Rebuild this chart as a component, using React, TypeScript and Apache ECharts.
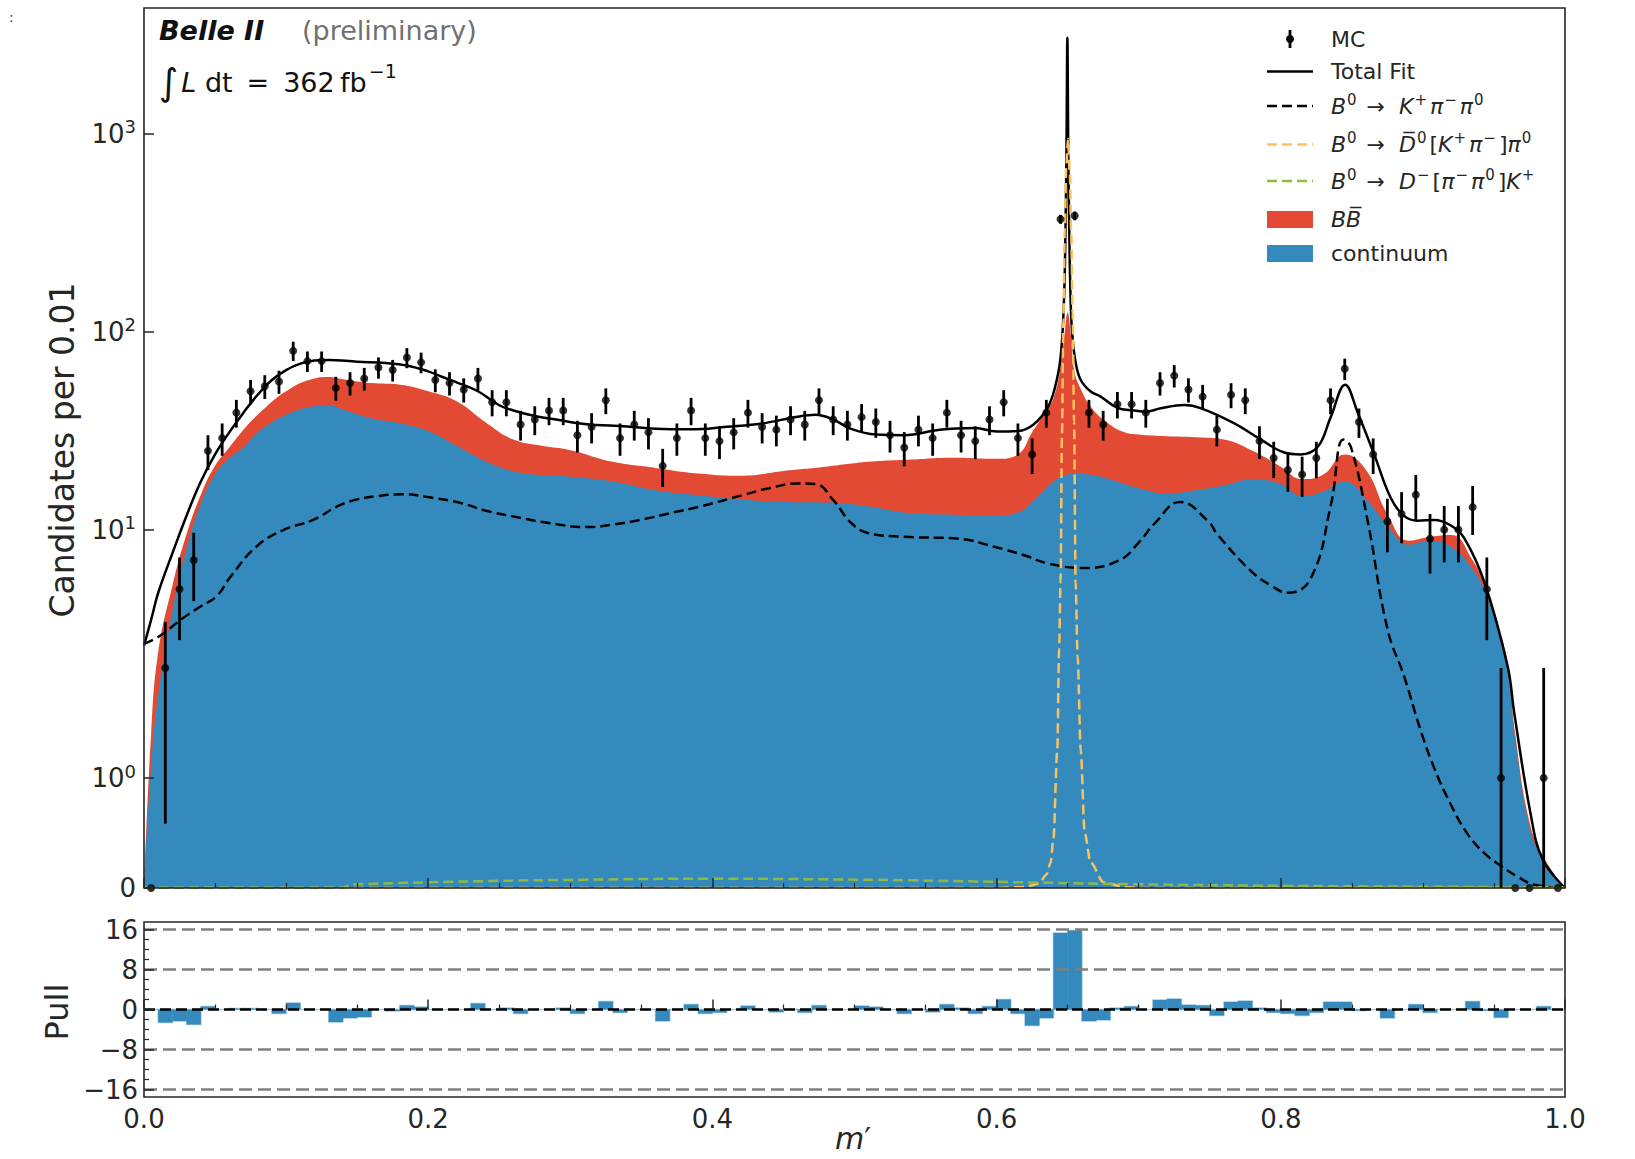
import React, { useEffect, useRef } from "react";
import * as echarts from "echarts";

// ---------------- data ----------------
const BIN_WIDTH = 0.01;

// MC counts per bin of 0.01 in m'
const mcCounts = [
  0, 2, 5, 7, 25, 29, 39, 50, 53, 56,
  80, 71, 71, 52, 55, 58, 66, 64, 74, 70,
  57, 55, 51, 58, 44, 44, 34, 36, 40, 40,
  30, 33, 45, 29, 34, 31, 21, 29, 40, 29,
  28, 31, 39, 33, 32, 36, 34, 45, 36, 34,
  37, 35, 30, 26, 32, 29, 39, 30, 28, 36,
  44, 29, 24, 39, 370, 385, 39, 34, 43, 43,
  39, 55, 60, 51, 47, 32, 48, 45, 28, 23,
  20, 19, 23, 45, 65, 35, 24, 11, 12, 15,
  9, 10, 10, 13, 5, 1, 0, 0, 1, 0,
];

// Pull per bin
const pullValues = [
  0, -2.6, -2.3, -3.0, 0.6, 0, 0.2, 0.2, 0, -0.8,
  1.3, 0, 0, -2.5, -1.7, -1.5, 0, -0.3, 0.8, 0.5,
  0, 0, 0, 1.2, 0, 0.3, -0.8, 0, 0, 0.3,
  -0.8, 0, 1.6, -0.6, 0, 0, -2.3, 0, 1.0, -0.8,
  -0.6, 0, 0.7, 0, -0.5, 0, -0.6, 0.8, 0, 0,
  0.7, 0.5, 0, -0.8, 0, -0.5, 1.0, 0.3, -0.8, 0.6,
  2.0, -0.8, -3.2, -1.7, 15.3, 15.8, -2.3, -2.1, 0.3, 0.6,
  0, 1.9, 2.1, 0.9, 0.8, -1.2, 1.5, 1.7, 0.3, -0.6,
  -0.8, -1.2, -0.6, 1.5, 1.5, -0.2, 0, -1.7, 0, 1.0,
  -0.6, 0, 0, 1.6, -0.2, -1.6, 0, 0, 0.6, 0,
];

// stacked background components (continuum + BBbar)
const areaX = [
  0, 0.005, 0.01, 0.02, 0.03, 0.04, 0.05, 0.06, 0.07, 0.08,
  0.1, 0.12, 0.13, 0.14, 0.16, 0.18, 0.2, 0.22, 0.24, 0.26,
  0.28, 0.3, 0.33, 0.36, 0.39, 0.42, 0.45, 0.48, 0.51, 0.54,
  0.57, 0.6, 0.615, 0.625, 0.635, 0.64, 0.645, 0.648, 0.65, 0.652,
  0.655, 0.66, 0.665, 0.675, 0.69, 0.7, 0.72, 0.74, 0.76, 0.78,
  0.8, 0.815, 0.83, 0.845, 0.86, 0.875, 0.89, 0.905, 0.92, 0.935,
  0.945, 0.955, 0.96, 0.965, 0.975, 0.985, 1.0,
];
const continuumValues = [
  0, 1.1, 1.75, 3.9, 8.0, 13.5, 19, 23, 26, 31,
  38, 42, 42.5, 40.5, 36.5, 34.5, 31.5, 26.5, 22.2, 19.7,
  18.8, 18.5, 17.5, 15.8, 14.9, 14.2, 13.8, 13.7, 13.1, 12.1,
  11.9, 11.8, 12.2, 13.8, 16.2, 17.5, 18.5, 18.8, 19.0, 19.2,
  19.4, 19.3, 19.0, 18.4, 17.0, 16.2, 15.2, 15.8, 16.7, 17.9,
  17.0, 14.8, 15.6, 17.5, 14.3, 10.5, 8.4, 8.8, 8.2, 6.3,
  4.6, 2.7, 1.95, 1.35, 0.55, 0.25, 0,
];
const bbbarValues = [
  0, 0.3, 0.65, 1.3, 1.5, 1.5, 2, 3, 6, 7,
  12, 16, 16.5, 17, 18.5, 19.5, 18.5, 18, 12.8, 8.8,
  7.7, 6.7, 4.5, 4.7, 4.3, 4.5, 6.0, 7.1, 8.9, 10.5,
  11.2, 11.0, 11.8, 17.2, 23.8, 28.5, 47.5, 81.2, 106, 80.8,
  42.6, 30.7, 24, 17.6, 14, 14, 14.4, 13.5, 11.8, 7.1,
  3.8, 3.2, 3.4, 6.5, 5.7, 1.5, 0.4, 0.4, 1.2, 0.7,
  0.4, 0.2, 0.1, 0.05, 0.05, 0.03, 0,
];

// Total fit
const fitX = [
  0, 0.005, 0.01, 0.02, 0.03, 0.04, 0.05, 0.06, 0.07, 0.08,
  0.09, 0.1, 0.11, 0.12, 0.13, 0.15, 0.17, 0.185, 0.2, 0.21,
  0.22, 0.235, 0.25, 0.26, 0.275, 0.29, 0.31, 0.34, 0.36, 0.385,
  0.41, 0.435, 0.46, 0.4725, 0.485, 0.4975, 0.515, 0.535, 0.56, 0.585,
  0.6, 0.615, 0.626, 0.636, 0.641, 0.645, 0.6474, 0.6486, 0.6492, 0.6498,
  0.6504, 0.651, 0.6521, 0.6533, 0.6556, 0.6592, 0.666, 0.6732, 0.685, 0.697,
  0.705, 0.7155, 0.732, 0.744, 0.767, 0.786, 0.802, 0.814, 0.826, 0.835,
  0.8453, 0.854, 0.8657, 0.8775, 0.8869, 0.8963, 0.908, 0.9197, 0.9291, 0.9432,
  0.9596, 0.9643, 0.976, 0.9843, 1.0,
];
const fitValues = [
  2.6, 3.5, 4.8, 7.6, 11.8, 17.5, 24, 31, 39, 48,
  57, 64, 69, 71.5, 72, 70.5, 69.5, 67.5, 63, 59,
  55.5, 50, 42.5, 40, 37.5, 36, 34.2, 33.2, 32.3, 32.1,
  33.1, 34.4, 37.2, 38, 36, 32.3, 30.2, 30, 32, 32.6,
  31.3, 31.5, 34, 41.5, 52, 74, 143, 380, 900, 3050,
  900, 380, 143, 96, 70, 57, 50, 47, 41.2, 40,
  39.4, 41, 42.6, 41, 34.5, 28.5, 24.6, 24, 26.2, 36.8,
  54, 39.2, 24, 14.4, 11.7, 11.1, 11.2, 10.5, 9.06, 5.44,
  2.05, 1.59, 0.66, 0.26, 0,
];

// B0 -> K+ pi- pi0
const kppX = [
  0, 0.011, 0.028, 0.04, 0.051, 0.061, 0.079, 0.098, 0.119, 0.136,
  0.148, 0.165, 0.182, 0.2, 0.2235, 0.24, 0.2613, 0.285, 0.3116, 0.33,
  0.3493, 0.37, 0.3915, 0.4222, 0.44, 0.46, 0.4725, 0.4851, 0.4977, 0.51,
  0.5354, 0.5731, 0.5983, 0.62, 0.636, 0.6612, 0.6863, 0.7, 0.7115, 0.7291,
  0.749, 0.7554, 0.779, 0.7935, 0.8047, 0.8211, 0.8352, 0.8441, 0.8493, 0.861,
  0.8751, 0.8869, 0.898, 0.908, 0.92, 0.9315, 0.943, 0.955, 0.967, 0.9784,
  1.0,
];
const kppValues = [
  2.65, 2.9, 3.6, 4.1, 4.6, 5.8, 8.2, 9.95, 11.2, 13.1,
  14.1, 14.8, 15.1, 14.6, 13.6, 12.5, 11.6, 10.8, 10.3, 10.6,
  11.2, 12.1, 13.1, 15.0, 16.2, 17.1, 17.0, 14.1, 10.8, 9.6,
  9.2, 9.0, 8.2, 7.4, 6.75, 6.4, 7.0, 8.6, 10.8, 13.8,
  11.0, 9.46, 6.18, 5.2, 4.8, 5.68, 13.3, 28.5, 26.2, 11.2,
  3.14, 1.92, 1.45, 1.09, 0.75, 0.49, 0.32, 0.2, 0.1, 0.03,
  0,
];

// B0 -> D0bar[K+ pi-] pi0
const d0X = [
  0, 0.6, 0.62, 0.63, 0.635, 0.638, 0.64, 0.6427, 0.644, 0.645,
  0.646, 0.647, 0.648, 0.649, 0.6503, 0.6515, 0.6525, 0.6535, 0.6545, 0.6556,
  0.657, 0.6592, 0.662, 0.6662, 0.6754, 0.69, 0.7, 1.0,
];
const d0Values = [
  0, 0, 0.01, 0.04, 0.12, 0.23, 0.45, 1.25, 2.5, 5.4,
  30, 115, 330, 680, 940, 640, 320, 125, 35, 5.4,
  2.3, 1.25, 0.5, 0.23, 0.05, 0.01, 0, 0,
];

// B0 -> D-[pi- pi0] K+
const dmX = [0, 0.14, 0.145, 0.15, 0.2, 0.25, 0.31, 0.4, 0.45, 0.54, 0.63, 0.7, 0.8, 0.9, 1.0];
const dmValues = [0, 0, 0.03, 0.034, 0.052, 0.065, 0.076, 0.085, 0.082, 0.07, 0.049, 0.034, 0.02, 0.012, 0.006];

// ticks
const yTickValues = [0, 1, 10, 100, 1000];
const yTickExponents = ["", "0", "1", "2", "3"];
const pullTicks = [-16, -8, 0, 8, 16];
const pullMinorTicks = [-14, -12, -10, -6, -4, -2, 2, 4, 6, 10, 12, 14];
const pullRefLines = [-16, -8, 8, 16];

// ---------------- scale (matplotlib symlog, linthresh=2, linscale=1) ----------------
const LINTHRESH = 2;
const LINADJ = 1 / (1 - 1 / 10);
function symlog(v: number): number {
  const a = Math.abs(v);
  if (a <= LINTHRESH) return v * LINADJ;
  return Math.sign(v) * LINTHRESH * (LINADJ + Math.log10(a / LINTHRESH));
}
const Y_MAX = 8.89;

// ---------------- style ----------------
const FONT = "DejaVu Sans";
const INK = "#262626";
const RED = "#E24A33";
const BLUE = "#348ABD";
const ORANGE = "#FBC15E";
const GREEN = "#8EBA42";
const MAIN = { left: 144, top: 8, width: 1421, height: 880 };
const PULL = { left: 144, top: 922, width: 1421, height: 175 };

function curve(xs: number[], vs: number[], color: string, width: number, dash: any, z: number, smooth = 0.45, mono: any = null) {
  return {
    type: "line",
    xAxisIndex: 0,
    yAxisIndex: 0,
    data: xs.map((x, i) => [x, symlog(vs[i])]),
    symbol: "none",
    showSymbol: false,
    smooth,
    smoothMonotone: mono,
    lineStyle: { color, width, type: dash },
    z,
    silent: true,
  };
}

function area(xs: number[], vs: number[], color: string, z: number) {
  return {
    type: "line",
    xAxisIndex: 0,
    yAxisIndex: 0,
    data: xs.map((x, i) => [x, symlog(vs[i])]),
    symbol: "none",
    showSymbol: false,
    smooth: 0.45,
    lineStyle: { width: 0, opacity: 0 },
    areaStyle: { color, opacity: 1 },
    z,
    silent: true,
  };
}

function buildOption() {
  const centers = mcCounts.map((_, i) => (i + 0.5) * BIN_WIDTH);
  const stackTop = continuumValues.map((c, i) => c + bbbarValues[i]);
  const errData = mcCounts
    .map((n, i) => [centers[i], symlog(Math.max(0, n - Math.sqrt(n))), symlog(n + Math.sqrt(n))])
    .filter((d, i) => mcCounts[i] > 0);
  const markerData = mcCounts.map((n, i) => [centers[i], symlog(n)]);
  const pullData = pullValues.map((p, i) => [i * BIN_WIDTH, (i + 1) * BIN_WIDTH, p]);

  const tickStyle = { color: INK, width: 1.5 };
  const labelBase = { fontSize: 26, fontFamily: FONT, color: INK };

  const legRows = [39, 71.5, 106, 144.5, 181, 219.5, 253.5];
  const LX0 = 1267, LX1 = 1313, LTX = 1331;
  const richLeg = {
    r: { fontSize: 22, fontFamily: FONT, fill: INK, color: INK, lineHeight: 28 },
    i: { fontSize: 22, fontFamily: FONT, fontStyle: "italic", fill: INK, color: INK, lineHeight: 28 },
    n: { fontSize: 15, fontFamily: FONT, fill: INK, color: INK, lineHeight: 17, verticalAlign: "top", padding: [0, 3, 0, 1] },
  };
  const legText = (y: number, text: string) => ({
    type: "text",
    x: LTX,
    y,
    z: 100,
    silent: true,
    style: { text, rich: richLeg, fontSize: 22, fontFamily: FONT, fill: INK, align: "left", verticalAlign: "middle" },
  });
  const legLine = (y: number, color: string, dash: any) => ({
    type: "line",
    z: 100,
    silent: true,
    shape: { x1: LX0, y1: y, x2: LX1, y2: y },
    style: { stroke: color, lineWidth: 2.5, lineDash: dash },
  });
  const legRect = (y: number, color: string) => ({
    type: "rect",
    z: 100,
    silent: true,
    shape: { x: LX0, y: y - 8.5, width: LX1 - LX0, height: 17 },
    style: { fill: color },
  });

  const graphic: any[] = [
    // frames
    { type: "rect", z: 100, silent: true, shape: { x: MAIN.left, y: MAIN.top, width: MAIN.width, height: MAIN.height }, style: { fill: "none", stroke: INK, lineWidth: 1.6 } },
    { type: "rect", z: 100, silent: true, shape: { x: PULL.left, y: PULL.top, width: PULL.width, height: PULL.height }, style: { fill: "none", stroke: INK, lineWidth: 1.6 } },
    // header texts
    { type: "text", x: 9, y: 17, z: 100, silent: true, style: { text: ":", fontSize: 14, fontFamily: FONT, fill: "#2a4d8f", align: "left", verticalAlign: "middle" } },
    { type: "text", x: 159, y: 30, z: 100, silent: true, style: { text: "Belle II", fontSize: 27, fontWeight: "bold", fontStyle: "italic", fontFamily: FONT, fill: "#111", align: "left", verticalAlign: "middle" } },
    { type: "text", x: 302, y: 30, z: 100, silent: true, style: { text: "(preliminary)", fontSize: 27, fontFamily: FONT, fill: "#707070", align: "left", verticalAlign: "middle" } },
    {
      type: "text", x: 159, y: 82, z: 100, silent: true,
      style: {
        text: "{int|\u222B}{it|L}{r| dt \u2009=\u2009 362\u2009fb}{s|\u22121}",
        align: "left", verticalAlign: "middle", fontFamily: FONT, fontSize: 27, fill: "#111",
        rich: {
          int: { fontSize: 37, fontFamily: FONT, fill: "#111", lineHeight: 42, padding: [0, 3, 0, 0] },
          it: { fontSize: 27, fontFamily: FONT, fontStyle: "italic", fill: "#111", lineHeight: 42 },
          r: { fontSize: 27, fontFamily: FONT, fill: "#111", lineHeight: 42 },
          s: { fontSize: 19, fontFamily: FONT, fill: "#111", lineHeight: 30, verticalAlign: "top", padding: [0, 0, 0, 2] },
        },
      },
    },
    // axis titles
    { type: "text", x: 62, y: 450, rotation: Math.PI / 2, z: 100, silent: true, style: { text: "Candidates per 0.01", fontSize: 33, fontFamily: FONT, fill: INK, align: "center", verticalAlign: "middle" } },
    { type: "text", x: 57, y: 1012, rotation: Math.PI / 2, z: 100, silent: true, style: { text: "Pull", fontSize: 32, fontFamily: FONT, fill: INK, align: "center", verticalAlign: "middle" } },
    {
      type: "text", x: 853, y: 1138, z: 100, silent: true,
      style: {
        text: "{m|m}{p|\u2032}", align: "center", verticalAlign: "middle", fontSize: 30, fontFamily: FONT, fill: INK,
        rich: {
          m: { fontSize: 30, fontFamily: FONT, fontStyle: "italic", fill: INK, lineHeight: 30 },
          p: { fontSize: 30, fontFamily: FONT, fill: INK, lineHeight: 30 },
        },
      },
    },
    // legend
    { type: "line", z: 100, silent: true, shape: { x1: 1290, y1: legRows[0] - 9, x2: 1290, y2: legRows[0] + 9 }, style: { stroke: "#000", lineWidth: 2.8 } },
    { type: "circle", z: 100, silent: true, shape: { cx: 1290, cy: legRows[0], r: 4 }, style: { fill: "#000" } },
    legText(legRows[0], "{r|MC}"),
    legLine(legRows[1], "#000", null),
    legText(legRows[1], "{r|Total Fit}"),
    legLine(legRows[2], "#000", [10, 5]),
    legText(legRows[2], "{i|B}{n|0}{r| \u2192  }{i|K}{n|+}{i|\u03C0}{n|\u2212}{i|\u03C0}{n|0}"),
    legLine(legRows[3], ORANGE, [10, 5]),
    legText(legRows[3], "{i|B}{n|0}{r| \u2192  }{i|D\u0305}{n|0}{r|[}{i|K}{n|+}{i|\u03C0}{n|\u2212}{r|]}{i|\u03C0}{n|0}"),
    legLine(legRows[4], GREEN, [10, 5]),
    legText(legRows[4], "{i|B}{n|0}{r| \u2192  }{i|D}{n|\u2212}{r|[}{i|\u03C0}{n|\u2212}{i|\u03C0}{n|0}{r|]}{i|K}{n|+}"),
    legRect(legRows[5], RED),
    legText(legRows[5], "{i|BB\u0305}"),
    legRect(legRows[6], BLUE),
    legText(legRows[6], "{r|continuum}"),
  ];

  const series: any[] = [
    area(areaX, stackTop, RED, 1),
    area(areaX, continuumValues, BLUE, 2),
    curve(fitX, fitValues, "#000", 2.5, "solid", 3, 0.4),
    curve(kppX, kppValues, "#000", 2.5, [10, 5], 4, 0.45),
    curve(d0X, d0Values, ORANGE, 2.5, [10, 5], 5, 0.3, "x"),
    curve(dmX, dmValues, GREEN, 2.5, [10, 5], 6, 0.4),
    {
      type: "custom",
      xAxisIndex: 0,
      yAxisIndex: 0,
      z: 7,
      silent: true,
      data: errData,
      encode: { x: 0, y: [1, 2] },
      renderItem: (params: any, api: any) => {
        const x = api.value(0);
        const p1 = api.coord([x, api.value(1)]);
        const p2 = api.coord([x, api.value(2)]);
        return {
          type: "line",
          shape: { x1: p1[0], y1: p1[1], x2: p2[0], y2: p2[1] },
          style: { stroke: "#000", lineWidth: 2.8 },
        };
      },
    },
    {
      type: "scatter",
      xAxisIndex: 0,
      yAxisIndex: 0,
      z: 8,
      silent: true,
      data: markerData,
      symbol: "circle",
      symbolSize: 8,
      itemStyle: { color: "#000" },
    },
    // pull
    {
      type: "custom",
      xAxisIndex: 1,
      yAxisIndex: 1,
      z: 3,
      silent: true,
      data: pullData,
      encode: { x: [0, 1], y: 2 },
      renderItem: (params: any, api: any) => {
        const a = api.coord([api.value(0), 0]);
        const b = api.coord([api.value(1), api.value(2)]);
        return {
          type: "rect",
          shape: { x: a[0], y: Math.min(a[1], b[1]), width: b[0] - a[0], height: Math.abs(b[1] - a[1]) },
          style: { fill: BLUE, stroke: "rgba(52,138,189,0.45)", lineWidth: 1.5 },
        };
      },
    },
    ...pullRefLines.map((y) => ({
      type: "line",
      xAxisIndex: 1,
      yAxisIndex: 1,
      z: 4,
      silent: true,
      data: [[0, y], [1, y]],
      symbol: "none",
      lineStyle: { color: "#808080", width: 2.5, type: [13, 6] },
    })),
    {
      type: "line",
      xAxisIndex: 1,
      yAxisIndex: 1,
      z: 5,
      silent: true,
      data: [[0, 0], [1, 0]],
      symbol: "none",
      lineStyle: { color: "#000", width: 2.5, type: [11, 5] },
    },
  ];

  const yCustom = yTickValues.map(symlog);

  return {
    animation: false,
    backgroundColor: "#fff",
    grid: [
      { ...MAIN, outerBoundsMode: "none", containLabel: false },
      { ...PULL, outerBoundsMode: "none", containLabel: false },
    ],
    xAxis: [
      {
        type: "value", gridIndex: 0, min: 0, max: 1, interval: 0.2, z: 10,
        axisLine: { show: false },
        axisLabel: { show: false },
        axisTick: { show: true, inside: true, length: 10, lineStyle: tickStyle },
        minorTick: { show: true, splitNumber: 4, length: 5, lineStyle: { color: INK, width: 1.2 } },
        splitLine: { show: false },
        minorSplitLine: { show: false },
      },
      {
        type: "value", gridIndex: 1, min: 0, max: 1, interval: 0.2, z: 10,
        axisLine: { show: false },
        axisLabel: { ...labelBase, margin: 9, showMinLabel: true, showMaxLabel: true, formatter: (v: number) => v.toFixed(1) },
        axisTick: { show: true, inside: true, length: 10, lineStyle: tickStyle },
        minorTick: { show: true, splitNumber: 4, length: 5, lineStyle: { color: INK, width: 1.2 } },
        splitLine: { show: false },
        minorSplitLine: { show: false },
      },
    ],
    yAxis: [
      {
        type: "value", gridIndex: 0, min: 0, max: Y_MAX, position: "left", z: 10,
        axisLine: { show: false },
        axisTick: { show: true, inside: true, length: 10, lineStyle: tickStyle, customValues: yCustom },
        axisLabel: {
          show: true,
          customValues: yCustom,
          margin: 8,
          formatter: (v: number) => {
            const idx = yCustom.findIndex((t) => Math.abs(t - v) < 1e-6);
            if (idx < 0) return "";
            const e = yTickExponents[idx];
            return e === "" ? "{b|0}" : "{b|10}{s|" + e + "}";
          },
          rich: {
            b: { fontSize: 26, fontFamily: FONT, color: INK, lineHeight: 32 },
            s: { fontSize: 18, fontFamily: FONT, color: INK, lineHeight: 22, verticalAlign: "top" },
          },
        },
        splitLine: { show: false },
      },
      {
        type: "value", gridIndex: 1, min: -17.5, max: 17.5, position: "left", offset: 0, z: 10,
        axisLine: { show: false },
        axisTick: { show: true, inside: true, length: 10, lineStyle: tickStyle, customValues: pullTicks },
        axisLabel: {
          ...labelBase, margin: 6, customValues: pullTicks,
          formatter: (v: number) => (v < 0 ? "\u2212" + Math.abs(v) : String(v)),
        },
        splitLine: { show: false },
      },
      {
        type: "value", gridIndex: 1, min: -17.5, max: 17.5, position: "left", offset: 0, z: 10,
        axisLine: { show: false },
        axisTick: { show: true, inside: true, length: 5, lineStyle: { color: INK, width: 1.2 }, customValues: pullMinorTicks },
        axisLabel: { show: false },
        splitLine: { show: false },
      },
    ],
    series,
    graphic,
  };
}

export default function App() {
  const ref = useRef<HTMLDivElement>(null);
  useEffect(() => {
    if (!ref.current) return;
    const chart = echarts.init(ref.current, null, { renderer: "svg" });
    chart.setOption(buildOption() as any);
    return () => chart.dispose();
  }, []);
  return (
    <div
      ref={ref}
      style={{ position: "absolute", left: 0, top: 0, width: 1635, height: 1159, background: "#fff" }}
    />
  );
}
